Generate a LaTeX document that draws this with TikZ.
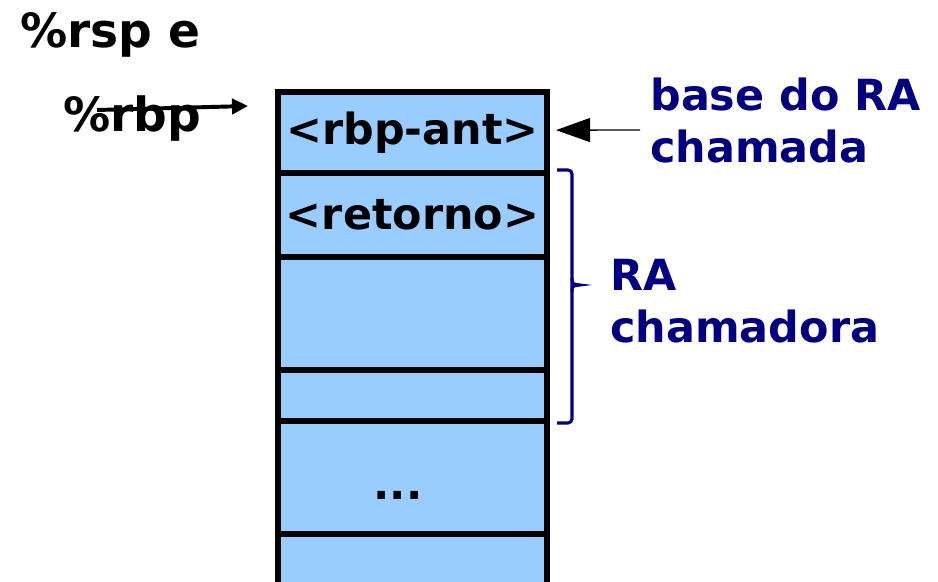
\documentclass[tikz,border=0pt]{standalone}
\usepackage{fontspec}
\setmainfont{DejaVu Sans}
\usetikzlibrary{arrows.meta}
\definecolor{cellblue}{HTML}{99CCFF}
\definecolor{ranavy}{HTML}{000080}
\newcommand{\bigbold}{\bfseries\fontsize{30.5}{37}\selectfont}
\newcommand{\regbold}{\bfseries\fontsize{33.5}{40}\selectfont}
\tikzset{
	cell/.style={draw=black, fill=cellblue, line width=4.3pt, outer sep=0pt, inner sep=0pt, anchor=north west, minimum width=6.725cm, font=\bigbold},
	txt/.style={inner sep=0pt, font=\bigbold},
	reg/.style={inner sep=0pt, font=\regbold, anchor=base west},
	txtnavy/.style={txt, text=ranavy, align=left, anchor=base west},
	ptr/.style={line width=2.8pt, -{Triangle[length=0.4cm, width=0.38cm]}},
	thinptr/.style={line width=1pt, -{Triangle[length=0.85cm, width=0.6cm]}},
	bracket/.style={draw=ranavy, line width=2.2pt, rounded corners=0.1cm}
}

\begin{document}
\begin{tikzpicture}[x=0.025cm, y=-0.025cm]
		%%%%% START %%%%%
		\useasboundingbox (0, 0) rectangle (938, 582);
		
		% stack cells
		\node[cell, minimum height=81*0.025cm] (rbpant) at (278, 92) {<rbp-ant>};
		\node[cell, minimum height=84*0.025cm] (retorno) at (278, 173) {<retorno>};
		\node[cell, minimum height=113*0.025cm] (vazioa) at (278, 257) {};
		\node[cell, minimum height=51*0.025cm] (vaziob) at (278, 370) {};
		\node[cell, minimum height=113*0.025cm] (reticencias) at (278, 421) {};
		\node[cell, minimum height=90*0.025cm] (fundo) at (278, 534) {};
		\node[txt, anchor=base] (dots) at (398, 499) {...};
		
		% registers
		\node[reg] (rsp) at (20, 48) {\%rsp e};
		\node[reg] (rbp) at (63, 132) {\%rbp};
		\coordinate (rbptail) at (97, 110);
		\coordinate (rbptip) at (248, 106);
		\draw[ptr] (rbptail) -- (rbptip);
		
		% base do RA
		\node[txtnavy] (base) at (650, 163) {base do RA\\chamada};
		\coordinate (basetail) at (640, 130);
		\draw[thinptr] (basetail) -- ([xshift=0.225cm, yshift=0.06cm]rbpant.east);
		
		% RA chamadora
		\coordinate (bracetop) at (557, 170);
		\coordinate (bracebot) at (557, 423);
		\coordinate (bracetip) at (580, 285);
		\draw[bracket] (bracetop) -| (572, 285) |- (bracebot);
		\draw[bracket, rounded corners=0pt] (572, 278) .. controls (572, 284) .. (bracetip) .. controls (572, 286) .. (572, 292);
		\node[txtnavy] (chamadora) at (610, 343) {RA\\chamadora};
		
		%%%%% END %%%%%
	\end{tikzpicture}
\end{document}
